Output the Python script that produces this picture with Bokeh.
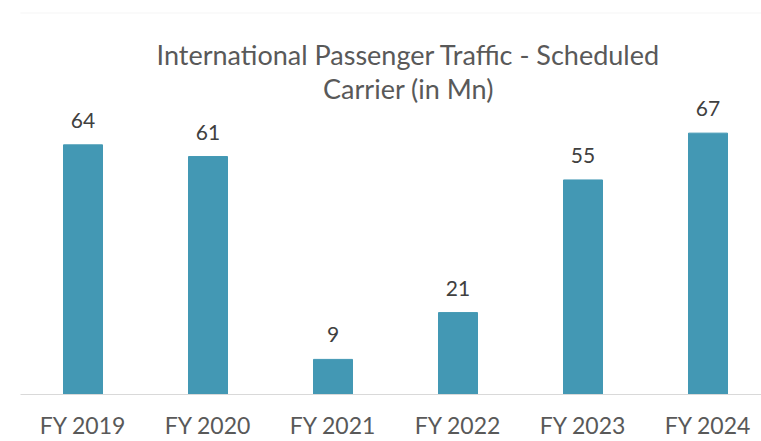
from bokeh.plotting import figure
from bokeh.models import (ColumnDataSource, Range1d, FixedTicker, LabelSet,
                          Label, BoxAnnotation)
from bokeh.core.properties import value
from bokeh.embed import file_html
from bokeh.resources import INLINE

categories = ["FY 2019", "FY 2020", "FY 2021", "FY 2022", "FY 2023", "FY 2024"]
values = [64, 61, 9, 21, 55, 67]
title_lines = ["International Passenger Traffic - Scheduled", "Carrier (in Mn)"]

FONT = "Lato"
BAR = "#4398b4"

positions = list(range(len(categories)))
src = ColumnDataSource(dict(x=positions, top=values,
                            label=[str(v) for v in values]))

p = figure(width=761, height=441, output_backend="svg", toolbar_location=None,
           x_range=Range1d(-0.5, 5.428), y_range=Range1d(0, 101),
           min_border_left=20, min_border_right=0, min_border_top=0,
           min_border_bottom=47)
p.outline_line_color = None
p.grid.visible = False
p.yaxis.visible = False
p.background_fill_color = "white"
p.border_fill_color = "white"

p.vbar(x="x", top="top", width=0.312, source=src, color=BAR, line_color=BAR)

p.add_layout(LabelSet(x="x", y="top", text="label", source=src,
                      y_offset=17, text_align="center",
                      text_baseline="alphabetic", text_font=value(FONT),
                      text_font_size=value("21px"), text_color=value("#404040")))

ax = p.xaxis[0]
ax.ticker = FixedTicker(ticks=positions)
ax.major_label_overrides = {i: c for i, c in zip(positions, categories)}
ax.axis_line_color = "#d9d9d9"
ax.axis_line_width = 1
ax.major_tick_line_color = None
ax.minor_tick_line_color = None
ax.major_label_standoff = 10
ax.major_label_text_font = FONT
ax.major_label_text_font_size = "23px"
ax.major_label_text_color = "#595959"

p.add_layout(BoxAnnotation(left=9, right=900, top=12.5, bottom=900,
                           left_units="canvas", right_units="canvas",
                           top_units="canvas", bottom_units="canvas",
                           fill_alpha=0, line_color="#d9d9d9", line_width=1))

for txt, yb in zip(title_lines, [54, 88]):
    p.add_layout(Label(x=408, y=yb, x_units="canvas", y_units="canvas",
                       text=txt, text_align="center",
                       text_baseline="alphabetic", text_font=FONT,
                       text_font_size="27px", text_color="#595959"))

open("out.html", "w").write(file_html(p, INLINE))
